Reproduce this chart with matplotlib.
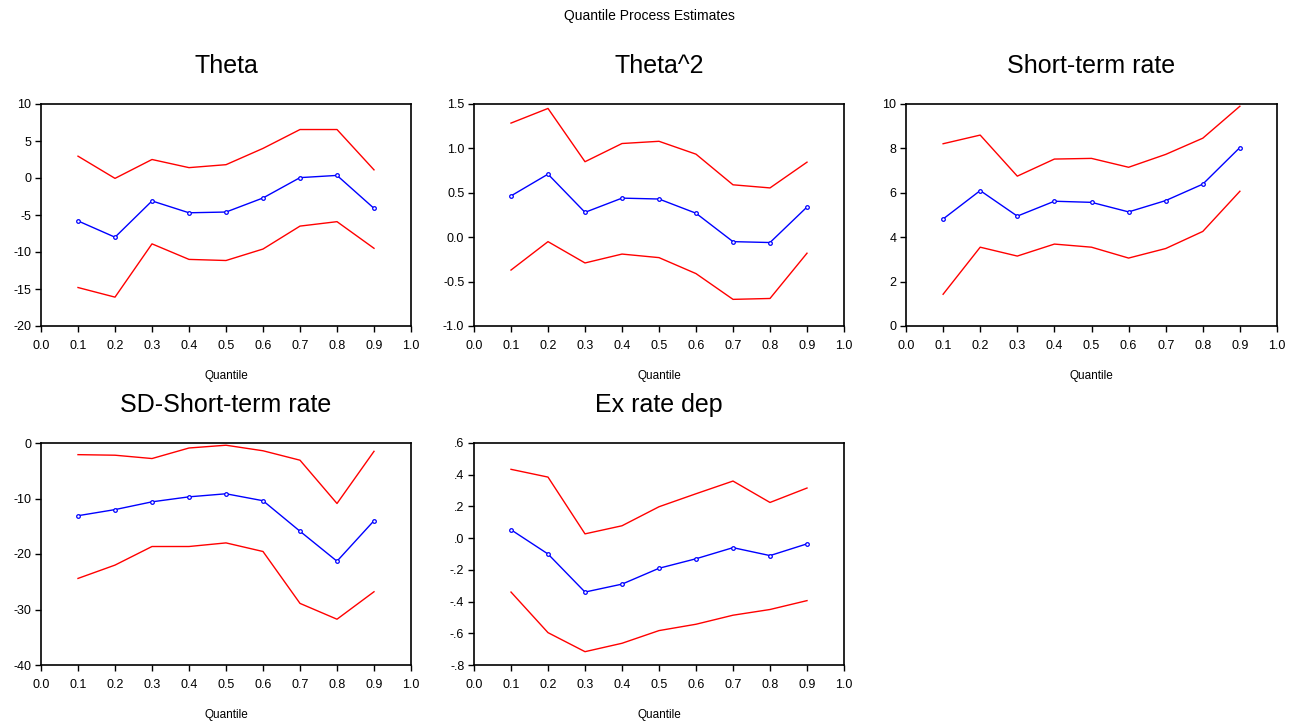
import matplotlib
matplotlib.use("Agg")
import matplotlib.pyplot as plt
from matplotlib.ticker import FuncFormatter, MultipleLocator
import numpy as np

plt.rcParams['font.family'] = ['Liberation Sans', 'DejaVu Sans']

quantiles = [0.1, 0.2, 0.3, 0.4, 0.5, 0.6, 0.7, 0.8, 0.9]

titles = ["Theta", "Theta^2", "Short-term rate", "SD-Short-term rate", "Ex rate dep"]

theta_est = [-5.8, -8.0, -3.1, -4.7, -4.6, -2.7, 0.05, 0.35, -4.1]
theta_hi = [2.95, -0.05, 2.5, 1.4, 1.8, 4.0, 6.55, 6.55, 1.1]
theta_lo = [-14.8, -16.1, -8.9, -11.0, -11.15, -9.6, -6.5, -5.9, -9.5]

theta2_est = [0.465, 0.71, 0.28, 0.44, 0.43, 0.27, -0.05, -0.06, 0.34]
theta2_hi = [1.285, 1.45, 0.85, 1.055, 1.08, 0.935, 0.59, 0.555, 0.845]
theta2_lo = [-0.37, -0.05, -0.29, -0.19, -0.23, -0.41, -0.70, -0.69, -0.18]

str_est = [4.82, 6.1, 4.95, 5.62, 5.57, 5.14, 5.65, 6.39, 8.04]
str_hi = [8.21, 8.6, 6.75, 7.52, 7.55, 7.15, 7.73, 8.46, 9.9]
str_lo = [1.43, 3.55, 3.15, 3.69, 3.55, 3.06, 3.49, 4.26, 6.07]

sd_est = [-13.1, -12.0, -10.6, -9.7, -9.15, -10.4, -15.9, -21.3, -14.0]
sd_hi = [-2.1, -2.2, -2.8, -0.9, -0.4, -1.4, -3.1, -10.9, -1.5]
sd_lo = [-24.4, -22.0, -18.65, -18.65, -18.0, -19.55, -28.9, -31.75, -26.8]

ex_est = [0.053, -0.10, -0.34, -0.29, -0.19, -0.13, -0.06, -0.11, -0.036]
ex_hi = [0.434, 0.385, 0.027, 0.078, 0.198, 0.28, 0.36, 0.225, 0.316]
ex_lo = [-0.34, -0.596, -0.716, -0.663, -0.583, -0.543, -0.486, -0.45, -0.394]

series = [
    (theta_est, theta_hi, theta_lo),
    (theta2_est, theta2_hi, theta2_lo),
    (str_est, str_hi, str_lo),
    (sd_est, sd_hi, sd_lo),
    (ex_est, ex_hi, ex_lo),
]
ylims = [(-20, 10), (-1.0, 1.5), (0, 10), (-40, 0), (-0.8, 0.6)]
ysteps = [5, 0.5, 2, 10, 0.2]

W, H = 1299, 726
fig = plt.figure(figsize=(W / 100, H / 100), dpi=100)

# axes boxes in pixels: (left, right, top, bottom)
boxes = [
    (41, 411, 104, 326),
    (474, 844, 104, 326),
    (906, 1277, 104, 326),
    (41, 411, 443, 665),
    (474, 844, 443, 665),
]

def fmt_ex(v, pos):
    s = f"{v:.1f}"
    s = s.replace("0.", ".")
    if s == "-.0":
        s = ".0"
    return s

for i, (box, (est, hi, lo), title, yl, st) in enumerate(zip(boxes, series, titles, ylims, ysteps)):
    l, r, t, b = box
    ax = fig.add_axes([l / W, 1 - b / H, (r - l) / W, (b - t) / H])
    ax.plot(quantiles, hi, color='#ff0000', lw=1.0)
    ax.plot(quantiles, lo, color='#ff0000', lw=1.0)
    ax.plot(quantiles, est, color='#0000ff', lw=1.0, marker='o', ms=2.6,
            mfc='white', mec='#0000ff', mew=0.9)
    ax.set_xlim(0, 1)
    ax.set_ylim(*yl)
    ax.xaxis.set_major_locator(MultipleLocator(0.1))
    ax.yaxis.set_major_locator(MultipleLocator(st))
    ax.xaxis.set_major_formatter(FuncFormatter(lambda v, p: f"{v:.1f}"))
    if i == 4:
        ax.yaxis.set_major_formatter(FuncFormatter(fmt_ex))
    elif st < 1:
        ax.yaxis.set_major_formatter(FuncFormatter(lambda v, p: f"{v:.1f}"))
    else:
        ax.yaxis.set_major_formatter(FuncFormatter(lambda v, p: f"{v:.0f}"))
    ax.tick_params(direction='out', length=4, width=1, labelsize=9,
                   colors='black')
    ax.tick_params(axis='x', pad=6)
    ax.tick_params(axis='y', pad=3)
    for sp in ax.spines.values():
        sp.set_linewidth(1.2)
    ax.set_xlabel("Quantile", fontsize=8.5, labelpad=13)
    ax.set_title(title, fontsize=18, pad=22.5)

fig.text(0.5, 1 - 16 / H, "Quantile Process Estimates", ha='center', va='center', fontsize=10)

fig.savefig("out.png", dpi=100, facecolor='white')
